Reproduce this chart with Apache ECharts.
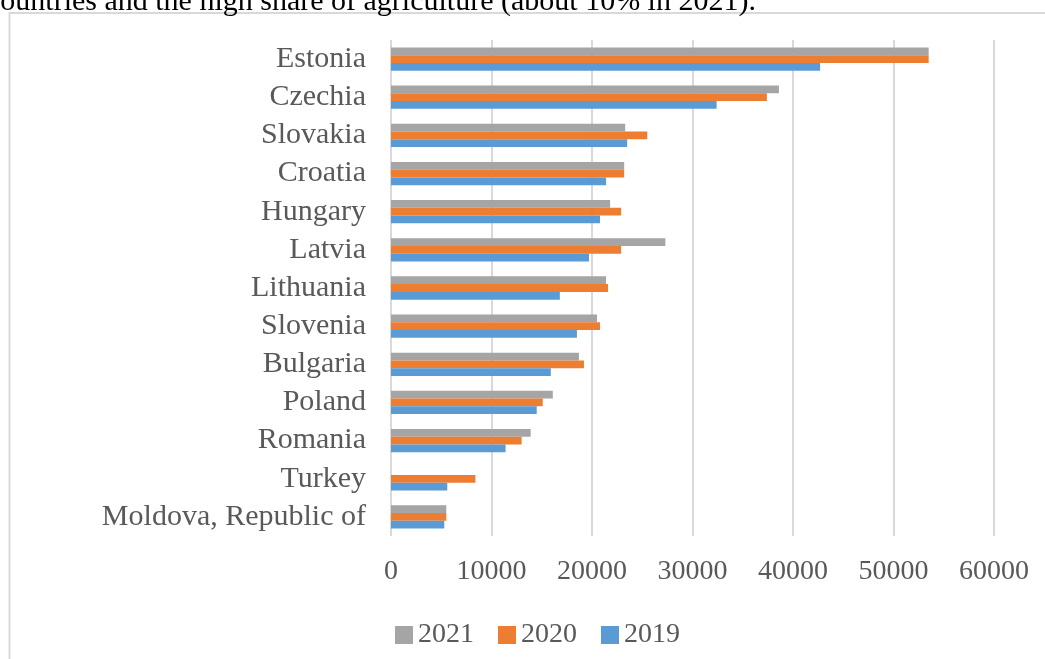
<!DOCTYPE html>
<html>
<head>
<meta charset="utf-8">
<script src="https://cdn.jsdelivr.net/npm/echarts@6/dist/echarts.min.js"></script>
<style>
  html, body { margin: 0; padding: 0; background: #ffffff; }
  #chart { width: 1045px; height: 659px; }
</style>
</head>
<body>
<div id="chart"></div>
<script>
// Countries, top to bottom
const countries = [
  'Estonia', 'Czechia', 'Slovakia', 'Croatia', 'Hungary', 'Latvia', 'Lithuania',
  'Slovenia', 'Bulgaria', 'Poland', 'Romania', 'Turkey', 'Moldova, Republic of'
];
// Values per year (no 2021 figure for Turkey)
const values2021 = [53500, 38600, 23300, 23200, 21800, 27300, 21400, 20500, 18700, 16100, 13900, null, 5500];
const values2020 = [53500, 37400, 25500, 23200, 22900, 22900, 21600, 20800, 19200, 15100, 13000, 8400, 5500];
const values2019 = [42700, 32400, 23500, 21400, 20800, 19700, 16800, 18500, 15900, 14500, 11400, 5600, 5300];
const years = ['2021', '2020', '2019'];
const colors = ['#a5a5a5', '#ed7d31', '#5b9bd5'];
const headerText = 'countries and the high share of agriculture (about 10% in 2021).';

const serif = '"Liberation Serif", "DejaVu Serif", serif';
const chart = echarts.init(document.getElementById('chart'), null, { renderer: 'canvas' });

const seriesValues = [values2021, values2020, values2019];

chart.setOption({
  animation: false,
  backgroundColor: '#ffffff',
  color: colors,
  graphic: [
    {
      type: 'rect',
      shape: { x: 9.5, y: 13, width: 1200, height: 800 },
      style: { fill: 'none', stroke: '#d9d9d9', lineWidth: 2 },
      silent: true
    },
    {
      type: 'text',
      x: -13,
      y: 17,
      style: {
        text: headerText,
        font: '30px ' + serif,
        fill: '#000000',
        verticalAlign: 'bottom'
      },
      silent: true
    }
  ],
  grid: { left: 391, right: 51, top: 40, bottom: 123, containLabel: false },
  legend: {
    data: years,
    left: 390,
    top: 616,
    itemWidth: 18,
    itemHeight: 18,
    itemGap: 24,
    icon: 'rect',
    textStyle: { fontFamily: serif, fontSize: 28, color: '#595959' }
  },
  xAxis: {
    type: 'value',
    min: 0,
    max: 60000,
    interval: 10000,
    axisLine: { show: false },
    axisTick: { show: false },
    axisLabel: {
      fontFamily: serif, fontSize: 28, color: '#595959', margin: 22,
      formatter: v => String(v)
    },
    splitLine: { show: true, lineStyle: { color: '#d9d9d9', width: 2 } }
  },
  yAxis: {
    type: 'category',
    data: countries,
    inverse: true,
    axisLine: { show: false },
    axisTick: { show: false },
    axisLabel: { fontFamily: serif, fontSize: 30, color: '#595959', margin: 25, interval: 0 }
  },
  series: years.map((y, i) => ({
    name: y,
    type: 'bar',
    data: seriesValues[i],
    barGap: '0%',
    barCategoryGap: '39%',
    itemStyle: { color: colors[i] }
  }))
});
</script>
</body>
</html>
